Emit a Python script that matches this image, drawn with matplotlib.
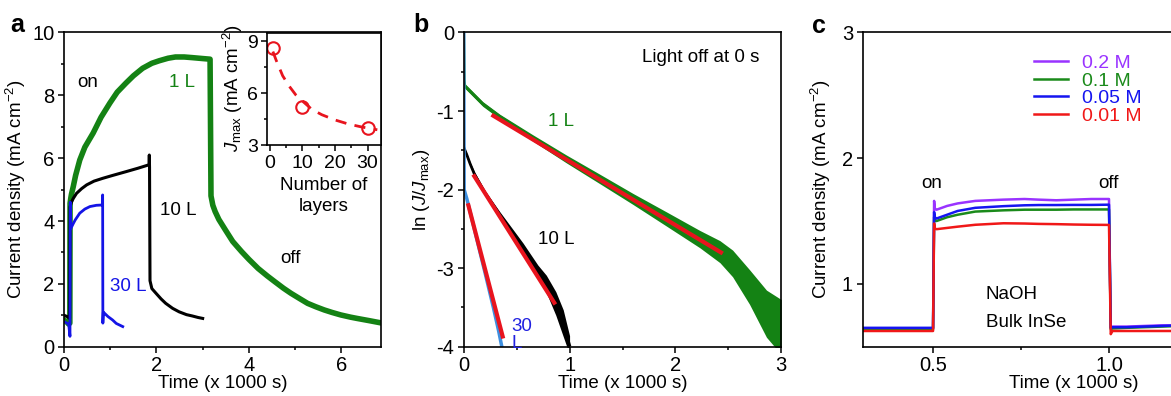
import numpy as np
import matplotlib.pyplot as plt
from matplotlib.ticker import MultipleLocator

plt.rcParams['font.family'] = ['Liberation Sans', 'DejaVu Sans']
plt.rcParams['mathtext.fontset'] = 'custom'
plt.rcParams['mathtext.rm'] = 'Liberation Sans'
plt.rcParams['mathtext.it'] = 'Liberation Sans:italic'
plt.rcParams['axes.linewidth'] = 1.2
plt.rcParams['axes.unicode_minus'] = False

# ---- panel a: photocurrent on/off (time in 1000 s, J in mA cm-2)
green_a_t = [0, 0.05, 0.10, 0.125, 0.13, 0.145, 0.16, 0.20, 0.25, 0.34, 0.45, 0.63, 0.80, 0.99,
             1.15, 1.34, 1.50, 1.70, 1.90, 2.06, 2.25, 2.41, 2.60, 2.77, 3.00, 3.16, 3.18, 3.22,
             3.27, 3.35, 3.49, 3.65, 3.84, 4.00, 4.20, 4.40, 4.56, 4.75, 4.91, 5.10, 5.27, 5.45,
             5.63, 5.80, 5.99, 6.20, 6.34, 6.60, 6.85]
green_a_j = [0.85, 0.80, 0.72, 0.75, 4.56, 4.72, 4.85, 5.10, 5.45, 5.94, 6.35, 6.80, 7.30, 7.75,
             8.10, 8.39, 8.62, 8.86, 9.02, 9.10, 9.18, 9.22, 9.22, 9.20, 9.17, 9.15, 4.80, 4.50,
             4.30, 4.05, 3.72, 3.35, 3.03, 2.78, 2.49, 2.25, 2.07, 1.86, 1.70, 1.53, 1.38, 1.27,
             1.17, 1.09, 1.01, 0.94, 0.90, 0.83, 0.76]
black_a_t = [0, 0.08, 0.12, 0.13, 0.16, 0.20, 0.27, 0.38, 0.49, 0.65, 0.84, 1.05, 1.34, 1.60,
             1.84, 1.845, 1.85, 1.86, 1.90, 1.99, 2.10, 2.20, 2.35, 2.49, 2.65, 2.77, 2.90, 3.00]
black_a_j = [1.0, 0.95, 0.90, 4.45, 4.60, 4.72, 4.88, 5.03, 5.15, 5.27, 5.36, 5.45, 5.57, 5.68,
             5.79, 6.10, 5.70, 2.10, 1.85, 1.70, 1.52, 1.38, 1.22, 1.11, 1.02, 0.98, 0.93, 0.90]
blue_a_t = [0, 0.10, 0.128, 0.135, 0.142, 0.16, 0.20, 0.24, 0.34, 0.45, 0.56, 0.70, 0.83,
            0.835, 0.84, 0.85, 0.95, 1.05, 1.13, 1.27]
blue_a_j = [0.80, 0.72, 0.33, 4.60, 3.75, 3.80, 3.92, 4.03, 4.25, 4.38, 4.46, 4.50, 4.51,
            4.83, 0.75, 1.10, 0.96, 0.85, 0.74, 0.64]

# inset: Jmax vs number of layers
layers = [1, 10, 30]
jmax = [8.6, 5.2, 4.0]
fit_layers = [1, 2, 4, 6, 8, 10, 13, 16, 20, 24, 28, 33]
fit_jmax = [8.4, 7.9, 7.0, 6.4, 5.9, 5.55, 5.05, 4.75, 4.45, 4.22, 4.05, 3.88]

# ---- panel b: ln(J/Jmax) after light off
green_b_t = [0, 0.005, 0.01, 0.18, 0.34, 0.65, 0.97, 1.28, 1.60, 1.91, 2.23, 2.42, 2.54, 2.70, 2.86, 3.00]
green_b_y = [0, -0.60, -0.68, -0.91, -1.07, -1.34, -1.61, -1.86, -2.12, -2.37, -2.63, -2.79, -2.94, -3.24, -3.58, -3.75]
green_b_w = [0, 0, 0.03, 0.03, 0.03, 0.04, 0.05, 0.06, 0.07, 0.09, 0.11, 0.14, 0.17, 0.22, 0.30, 0.35]
black_b_t = [0, 0.03, 0.06, 0.10, 0.20, 0.34, 0.56, 0.70, 0.78, 0.87, 0.94, 1.00]
black_b_y = [-1.46, -1.56, -1.67, -1.80, -2.04, -2.32, -2.75, -3.05, -3.20, -3.45, -3.70, -3.98]
black_b_w = [0, 0.02, 0.02, 0.03, 0.03, 0.04, 0.07, 0.09, 0.11, 0.15, 0.17, 0.12]
blue_b_t = [0, 0.004, 0.03, 0.10, 0.20, 0.28, 0.33, 0.36]
blue_b_y = [0, -2.00, -2.12, -2.50, -3.05, -3.50, -3.80, -4.00]
fit1_t, fit1_y = [0.28, 2.43], [-1.06, -2.80]
fit10_t, fit10_y = [0.10, 0.855], [-1.83, -3.44]
fit30_t, fit30_y = [0.044, 0.368], [-2.20, -3.87]

# ---- panel c: NaOH concentrations, bulk InSe
c_t = [0.30, 0.50, 0.503, 0.505, 0.51, 0.54, 0.57, 0.62, 0.70, 0.76, 0.80, 0.85, 0.90, 0.95,
       1.00, 1.005, 1.01, 1.05, 1.10, 1.15, 1.20]
c_series = {
    '0.2 M': [0.645, 0.645, 1.66, 1.60, 1.59, 1.62, 1.64, 1.66, 1.67, 1.675, 1.67, 1.665, 1.67,
              1.675, 1.675, 0.65, 0.66, 0.66, 0.665, 0.67, 0.67],
    '0.1 M': [0.64, 0.64, 1.53, 1.51, 1.50, 1.53, 1.55, 1.575, 1.585, 1.59, 1.59, 1.59, 1.592,
              1.592, 1.592, 0.64, 0.645, 0.65, 0.655, 0.66, 0.665],
    '0.05 M': [0.65, 0.65, 1.57, 1.53, 1.52, 1.55, 1.58, 1.605, 1.618, 1.625, 1.627, 1.627,
               1.628, 1.628, 1.63, 0.65, 0.655, 0.655, 0.66, 0.665, 0.67],
    '0.01 M': [0.625, 0.625, 1.48, 1.44, 1.435, 1.445, 1.455, 1.47, 1.482, 1.48, 1.477, 1.475,
               1.472, 1.47, 1.469, 0.60, 0.625, 0.625, 0.625, 0.625, 0.625],
}
c_colors = ['#9933ff', '#1a8a1a', '#1515f0', '#f01818']

GREEN = '#148214'
RED = '#e8141e'
FS = 13.5
TS = 14.5


def style(ax, size=TS):
    ax.tick_params(which='both', direction='out', top=False, right=False,
                   labelsize=size, width=1.1, pad=2.5)
    ax.tick_params(which='major', length=4.5)
    ax.tick_params(which='minor', length=2.5)


fig = plt.figure(figsize=(11.71, 3.96), dpi=100)

# a
ax = fig.add_axes([0.0547, 0.1245, 0.2703, 0.7935])
ax.plot(green_a_t, green_a_j, color=GREEN, lw=4)
ax.plot(black_a_t, black_a_j, color='black', lw=2.2)
ax.plot(blue_a_t, blue_a_j, color='#1414e6', lw=2.0)
ax.set_xlim(0, 6.85)
ax.set_ylim(0, 10)
ax.xaxis.set_major_locator(MultipleLocator(2))
ax.xaxis.set_minor_locator(MultipleLocator(1))
ax.yaxis.set_major_locator(MultipleLocator(2))
ax.yaxis.set_minor_locator(MultipleLocator(1))
style(ax)
ax.set_xlabel('Time (x 1000 s)', fontsize=FS, labelpad=0)
ax.set_ylabel('Current density (mA cm$^{-2}$)', fontsize=FS, labelpad=3)
ax.text(0.52, 8.4, 'on', fontsize=FS, ha='center', va='center')
ax.text(2.55, 8.4, '1 L', fontsize=FS, color=GREEN, ha='center', va='center')
ax.text(2.48, 4.35, '10 L', fontsize=FS, ha='center', va='center')
ax.text(1.39, 1.91, '30 L', fontsize=FS, color='#1414e6', ha='center', va='center')
ax.text(4.91, 2.81, 'off', fontsize=FS, ha='center', va='center')
fig.text(0.0085, 0.919, 'a', fontsize=18, weight='bold', va='baseline')

ins = fig.add_axes([0.2283, 0.6338, 0.0967, 0.2841])
ins.plot(fit_layers, fit_jmax, color=RED, lw=2, dashes=(4, 3))
ins.plot(layers, jmax, 'o', mfc='none', mec=RED, ms=9, mew=1.5)
ins.set_xlim(-0.7, 34)
ins.set_ylim(3, 9.5)
ins.set_xticks([0, 10, 20, 30])
ins.set_yticks([3, 6, 9])
ins.xaxis.set_minor_locator(MultipleLocator(5))
ins.yaxis.set_minor_locator(MultipleLocator(1.5))
style(ins, 14)
ins.set_xlabel('Number of\nlayers', fontsize=13.5, labelpad=4, linespacing=1.3)
ins.set_ylabel(r'$J_{\rm max}$ (mA cm$^{-2}$)', fontsize=13.5, labelpad=1)

# b
bx = fig.add_axes([0.396, 0.1245, 0.2712, 0.7935])
gy, gw = np.array(green_b_y), np.array(green_b_w)
bx.fill_between(green_b_t, gy - gw, gy + gw, color=GREEN, lw=0)
bx.plot(green_b_t, green_b_y, color=GREEN, lw=2)
ky, kw = np.array(black_b_y), np.array(black_b_w)
bx.fill_between(black_b_t, ky - kw, ky + kw, color='black', lw=0)
bx.plot(black_b_t, black_b_y, color='black', lw=2)
bx.plot(blue_b_t, blue_b_y, color='#3d8fe0', lw=2.5)
bx.plot(fit1_t, fit1_y, color=RED, lw=3)
bx.plot(fit10_t, fit10_y, color=RED, lw=3)
bx.plot(fit30_t, fit30_y, color=RED, lw=3)
bx.set_xlim(0, 3)
bx.set_ylim(-4, 0)
bx.xaxis.set_major_locator(MultipleLocator(1))
bx.xaxis.set_minor_locator(MultipleLocator(0.5))
bx.yaxis.set_major_locator(MultipleLocator(1))
bx.yaxis.set_minor_locator(MultipleLocator(0.5))
style(bx)
bx.set_xlabel('Time (x 1000 s)', fontsize=FS, labelpad=0)
bx.set_ylabel(r'ln ($J$/$J_{\rm max}$)', fontsize=FS, labelpad=3)
bx.text(2.24, -0.32, 'Light off at 0 s', fontsize=FS, ha='center', va='center')
bx.text(0.92, -1.13, '1 L', fontsize=FS, color=GREEN, ha='center', va='center')
bx.text(0.875, -2.64, '10 L', fontsize=FS, ha='center', va='center')
bx.text(0.45, -3.85, '30\nL', fontsize=FS, color='#2020e0', ha='left', va='center',
        linespacing=1.0)
fig.text(0.353, 0.919, 'b', fontsize=18, weight='bold', va='baseline')

# c
cx = fig.add_axes([0.7367, 0.1245, 0.3606, 0.7935])
for (lab, vals), col in zip(c_series.items(), c_colors):
    cx.plot(c_t, vals, color=col, lw=1.8, label=lab)
cx.set_xlim(0.3, 1.5)
cx.set_ylim(0.5, 3)
cx.set_xticks([0.5, 1.0])
cx.xaxis.set_minor_locator(MultipleLocator(0.25))
cx.set_yticks([1, 2, 3])
style(cx)
cx.set_xlabel('Time (x 1000 s)', fontsize=FS, labelpad=0)
cx.set_ylabel('Current density (mA cm$^{-2}$)', fontsize=FS, labelpad=6)
cx.text(0.495, 1.8, 'on', fontsize=FS, ha='center', va='center')
cx.text(1.0, 1.8, 'off', fontsize=FS, ha='center', va='center')
cx.text(0.65, 0.915, 'NaOH', fontsize=FS, ha='left', va='center')
cx.text(0.65, 0.69, 'Bulk InSe', fontsize=FS, ha='left', va='center')
cx.legend(loc='upper left', bbox_to_anchor=(0.405, 0.93), frameon=False,
          labelcolor='linecolor', fontsize=14, handlelength=1.75, handletextpad=0.75,
          labelspacing=0.0, borderpad=0, borderaxespad=0)
fig.text(0.693, 0.916, 'c', fontsize=18, weight='bold', va='baseline')

fig.savefig('out.png', dpi=100)
